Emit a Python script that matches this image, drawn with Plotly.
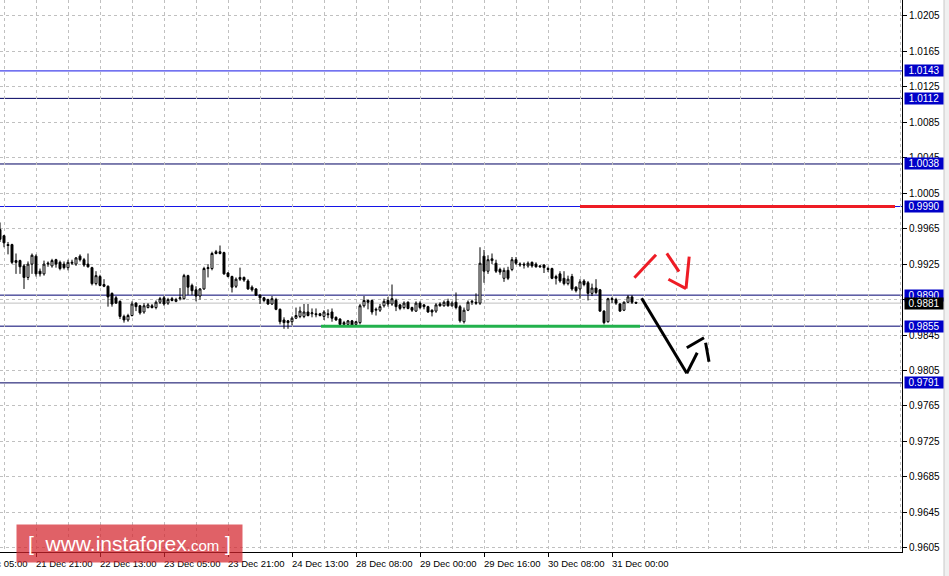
import plotly.graph_objects as go

# ---------------- data (H1 bars) ----------------
bar_open = [0.9964,0.9957,0.9947,0.9947,0.9929,0.9929,0.9923,0.9910,0.9925,0.9934,
            0.9917,0.9914,0.9925,0.9923,0.9930,0.9927,0.9925,0.9921,0.9926,0.9925,
            0.9934,0.9930,0.9925,0.9921,0.9903,0.9911,0.9902,0.9900,0.9892,0.9887,
            0.9883,0.9866,0.9862,0.9867,0.9881,0.9878,0.9871,0.9876,0.9878,0.9876,
            0.9882,0.9887,0.9881,0.9886,0.9883,0.9886,0.9886,0.9912,0.9901,0.9896,
            0.9889,0.9897,0.9920,0.9920,0.9937,0.9939,0.9938,0.9915,0.9911,0.9900,
            0.9910,0.9910,0.9906,0.9899,0.9897,0.9890,0.9887,0.9885,0.9880,0.9885,
            0.9874,0.9862,0.9861,0.9860,0.9864,0.9866,0.9866,0.9871,0.9869,0.9869,
            0.9869,0.9866,0.9869,0.9871,0.9865,0.9863,0.9857,0.9857,0.9861,0.9857,
            0.9859,0.9878,0.9884,0.9884,0.9873,0.9873,0.9878,0.9884,0.9880,0.9884,
            0.9879,0.9876,0.9882,0.9876,0.9872,0.9881,0.9879,0.9877,0.9873,0.9872,
            0.9880,0.9878,0.9883,0.9878,0.9882,0.9877,0.9860,0.9873,0.9882,0.9882,
            0.9881,0.9934,0.9917,0.9929,0.9926,0.9919,0.9909,0.9918,0.9919,0.9930,
            0.9924,0.9925,0.9923,0.9927,0.9925,0.9923,0.9924,0.9920,0.9920,0.9911,
            0.9914,0.9909,0.9903,0.9911,0.9899,0.9897,0.9906,0.9904,0.9892,0.9898,
            0.9896,0.9872,0.9860,0.9885,0.9885,0.9880,0.9873,0.9882,0.9888,0.9882]
bar_high = [0.9972,0.9958,0.9950,0.9948,0.9937,0.9930,0.9925,0.9928,0.9937,0.9936,
            0.9920,0.9929,0.9928,0.9931,0.9931,0.9929,0.9928,0.9930,0.9930,0.9933,
            0.9936,0.9932,0.9937,0.9922,0.9917,0.9913,0.9908,0.9901,0.9893,0.9889,
            0.9884,0.9868,0.9869,0.9883,0.9882,0.9879,0.9881,0.9881,0.9880,0.9884,
            0.9888,0.9889,0.9887,0.9888,0.9887,0.9898,0.9914,0.9913,0.9903,0.9900,
            0.9898,0.9922,0.9925,0.9939,0.9941,0.9946,0.9939,0.9916,0.9912,0.9910,
            0.9921,0.9911,0.9908,0.9901,0.9898,0.9891,0.9888,0.9886,0.9889,0.9887,
            0.9875,0.9865,0.9862,0.9866,0.9876,0.9877,0.9880,0.9880,0.9875,0.9875,
            0.9870,0.9873,0.9874,0.9875,0.9866,0.9864,0.9861,0.9862,0.9862,0.9861,
            0.9880,0.9889,0.9885,0.9885,0.9876,0.9880,0.9886,0.9888,0.9902,0.9886,
            0.9880,0.9883,0.9883,0.9877,0.9883,0.9883,0.9880,0.9878,0.9874,0.9881,
            0.9882,0.9884,0.9886,0.9883,0.9893,0.9879,0.9876,0.9884,0.9885,0.9892,
            0.9944,0.9941,0.9935,0.9937,0.9930,0.9921,0.9921,0.9922,0.9933,0.9933,
            0.9927,0.9927,0.9928,0.9928,0.9927,0.9924,0.9925,0.9922,0.9921,0.9913,
            0.9917,0.9917,0.9912,0.9914,0.9900,0.9908,0.9908,0.9906,0.9903,0.9908,
            0.9897,0.9873,0.9887,0.9888,0.9887,0.9881,0.9883,0.9890,0.9890,0.9882]
bar_low = [0.9950,0.9944,0.9936,0.9925,0.9914,0.9914,0.9897,0.9907,0.9914,0.9911,
           0.9911,0.9912,0.9922,0.9921,0.9921,0.9918,0.9919,0.9918,0.9924,0.9923,
           0.9928,0.9922,0.9921,0.9901,0.9901,0.9900,0.9899,0.9877,0.9877,0.9880,
           0.9863,0.9859,0.9860,0.9866,0.9872,0.9868,0.9869,0.9875,0.9875,0.9874,
           0.9880,0.9878,0.9879,0.9883,0.9882,0.9884,0.9885,0.9890,0.9890,0.9883,
           0.9885,0.9896,0.9910,0.9918,0.9936,0.9936,0.9913,0.9910,0.9893,0.9898,
           0.9906,0.9905,0.9896,0.9894,0.9889,0.9880,0.9882,0.9879,0.9879,0.9873,
           0.9857,0.9852,0.9852,0.9856,0.9863,0.9864,0.9864,0.9866,0.9865,0.9865,
           0.9866,0.9862,0.9864,0.9860,0.9861,0.9856,0.9856,0.9856,0.9855,0.9856,
           0.9857,0.9876,0.9874,0.9868,0.9867,0.9871,0.9876,0.9877,0.9878,0.9872,
           0.9873,0.9874,0.9874,0.9871,0.9871,0.9874,0.9874,0.9870,0.9866,0.9870,
           0.9877,0.9877,0.9877,0.9877,0.9874,0.9859,0.9858,0.9872,0.9879,0.9879,
           0.9879,0.9904,0.9914,0.9925,0.9915,0.9913,0.9905,0.9907,0.9917,0.9924,
           0.9922,0.9920,0.9921,0.9921,0.9921,0.9921,0.9915,0.9916,0.9908,0.9902,
           0.9904,0.9901,0.9901,0.9895,0.9893,0.9886,0.9900,0.9884,0.9889,0.9891,
           0.9871,0.9857,0.9859,0.9881,0.9879,0.9871,0.9872,0.9881,0.9880,0.9880]
bar_close = [0.9953,0.9949,0.9946,0.9927,0.9927,0.9922,0.9910,0.9925,0.9935,0.9914,
             0.9914,0.9925,0.9926,0.9929,0.9925,0.9920,0.9921,0.9927,0.9927,0.9932,
             0.9930,0.9924,0.9922,0.9903,0.9912,0.9901,0.9900,0.9888,0.9880,0.9881,
             0.9866,0.9862,0.9867,0.9880,0.9877,0.9870,0.9878,0.9879,0.9876,0.9882,
             0.9886,0.9880,0.9885,0.9884,0.9885,0.9887,0.9912,0.9899,0.9895,0.9889,
             0.9897,0.9920,0.9921,0.9937,0.9939,0.9937,0.9914,0.9911,0.9899,0.9908,
             0.9908,0.9907,0.9897,0.9896,0.9890,0.9887,0.9884,0.9880,0.9886,0.9874,
             0.9860,0.9859,0.9859,0.9864,0.9867,0.9872,0.9871,0.9867,0.9870,0.9868,
             0.9867,0.9871,0.9868,0.9864,0.9862,0.9857,0.9859,0.9861,0.9856,0.9860,
             0.9878,0.9884,0.9882,0.9871,0.9874,0.9877,0.9883,0.9880,0.9886,0.9877,
             0.9875,0.9881,0.9875,0.9873,0.9881,0.9876,0.9877,0.9871,0.9871,0.9879,
             0.9878,0.9882,0.9878,0.9881,0.9876,0.9861,0.9873,0.9882,0.9883,0.9881,
             0.9926,0.9917,0.9930,0.9931,0.9917,0.9916,0.9918,0.9909,0.9930,0.9926,
             0.9925,0.9924,0.9926,0.9923,0.9922,0.9922,0.9921,0.9919,0.9909,0.9909,
             0.9906,0.9903,0.9908,0.9897,0.9895,0.9905,0.9902,0.9892,0.9898,0.9893,
             0.9872,0.9859,0.9886,0.9886,0.9881,0.9872,0.9882,0.9888,0.9882,0.9881]
bar_index = list(range(len(bar_open)))

time_labels = ["21 Dec 21:00", "22 Dec 13:00", "23 Dec 05:00", "23 Dec 21:00", "24 Dec 13:00",
               "28 Dec 08:00", "29 Dec 00:00", "29 Dec 16:00", "30 Dec 08:00", "31 Dec 00:00"]
time_label_bars = [9, 25, 41, 57, 73, 89, 105, 121, 137, 153]
clipped_label = "21 Dec 05:00"
clipped_label_bar = -7

price_ticks = [0.9605, 0.9645, 0.9685, 0.9725, 0.9765, 0.9805, 0.9845, 0.9885, 0.9925,
               0.9965, 1.0005, 1.0045, 1.0085, 1.0125, 1.0165, 1.0205]

level_values = [1.0143, 1.0112, 1.0038, 0.9990, 0.9890, 0.9855, 0.9791]
level_colors = ["#1414e6", "#000060", "#000060", "#1414e6", "#000070", "#000070", "#000060"]
current_price = 0.9881

# target / support marks (bar index, price)
red_level = 0.9990
red_level_bars = [145, 223.75]
green_level = 0.98548
green_level_bars = [80.25, 160]
red_strokes = [((158.6, 0.99097), (164.0, 0.99356)),
               ((166.7, 0.99372), (169.75, 0.99165)),
               ((167.1, 0.99079), (171.5, 0.98973)),
               ((172.3, 0.99334), (171.5, 0.98973))]
black_strokes = [((160.4, 0.98864), (171.7, 0.98018)),
                 ((171.7, 0.98018), (174.3, 0.98250)),
                 ((171.7, 0.98307), (176.0, 0.98420)),
                 ((176.4, 0.98364), (177.25, 0.98149))]

X_RANGE = [0, 225.5]

# ---------------- figure ----------------
FONT = "Liberation Sans"
FS = 10
FSX = 9.5
fig = go.Figure(go.Candlestick(
    x=bar_index, open=bar_open, high=bar_high, low=bar_low, close=bar_close,
    increasing=dict(line=dict(color="black", width=1), fillcolor="white"),
    decreasing=dict(line=dict(color="black", width=1), fillcolor="black"),
    hoverinfo="skip", showlegend=False))

shapes = []
for v, c in zip(level_values, level_colors):
    shapes.append(dict(type="line", xref="paper", x0=0, x1=1, yref="y", y0=v, y1=v,
                       line=dict(color=c, width=1), layer="between"))
shapes.append(dict(type="line", xref="paper", x0=0, x1=1, yref="y", y0=current_price,
                   y1=current_price, line=dict(color="#c0c0c0", width=1), layer="between"))
shapes.append(dict(type="line", xref="x", yref="y", x0=red_level_bars[0], x1=red_level_bars[1],
                   y0=red_level, y1=red_level, line=dict(color="#ee1c25", width=3), layer="above"))
shapes.append(dict(type="line", xref="x", yref="y", x0=green_level_bars[0], x1=green_level_bars[1],
                   y0=green_level, y1=green_level, line=dict(color="#22b14c", width=3), layer="above"))
for (a, b) in red_strokes:
    shapes.append(dict(type="line", xref="x", yref="y", x0=a[0], y0=a[1], x1=b[0], y1=b[1],
                       line=dict(color="#ee1c25", width=3), layer="above"))
for (a, b) in black_strokes:
    shapes.append(dict(type="line", xref="x", yref="y", x0=a[0], y0=a[1], x1=b[0], y1=b[1],
                       line=dict(color="black", width=3), layer="above"))
# window frame strips
shapes.append(dict(type="rect", xref="paper", yref="paper", x0=944/902, x1=960/902, y0=-0.1, y1=1.1,
                   fillcolor="#f0f0f0", line=dict(width=0), layer="above"))
shapes.append(dict(type="line", xref="paper", yref="paper", x0=944/902, x1=944/902, y0=-0.1, y1=1.1,
                   line=dict(color="#c8c8c8", width=1), layer="above"))

annotations = []
for lab, b in zip(time_labels, time_label_bars):
    annotations.append(dict(x=b, xref="x", y=0, yref="paper", text=lab, showarrow=False,
                            xanchor="left", yanchor="top", xshift=-2, yshift=-4,
                            font=dict(family=FONT, size=FSX, color="black")))
# label for a bar left of the visible range (only its tail is visible)
clipped_paper_x = (clipped_label_bar - X_RANGE[0]) / (X_RANGE[1] - X_RANGE[0])
annotations.append(dict(x=clipped_paper_x, xref="paper", y=0, yref="paper", text=clipped_label,
                        showarrow=False, xanchor="left", yanchor="top", xshift=-3, yshift=-4,
                        font=dict(family=FONT, size=FSX, color="black")))
for v in level_values:
    annotations.append(dict(x=1, xref="paper", y=v, yref="y", text=f"{v:.4f}", showarrow=False,
                            xanchor="left", yanchor="middle", xshift=2, bgcolor="#0000c8",
                            width=36, height=9, borderpad=1,
                            font=dict(family=FONT, size=FS, color="white")))
annotations.append(dict(x=1, xref="paper", y=current_price, yref="y", text=f"{current_price:.4f}",
                        showarrow=False, xanchor="left", yanchor="middle", xshift=2, bgcolor="black",
                        width=36, height=9, borderpad=1,
                        font=dict(family=FONT, size=FS, color="white")))
# watermark
annotations.append(dict(x=129.5/902, xref="paper", y=(552-543.5)/552, yref="paper",
                        text="[&nbsp;&nbsp;www.instaforex<span style='font-size:15px'>.com</span>&nbsp;]",
                        showarrow=False, xanchor="center", yanchor="middle",
                        bgcolor="rgba(212,36,44,0.72)", width=223, height=35, borderpad=1,
                        font=dict(family=FONT, size=21, color="white")))

major_x = time_label_bars
minor_x = [b for b in range(1, 226, 8) if b not in major_x]

fig.update_layout(
    width=949, height=576,
    margin=dict(l=0, r=47, t=0, b=24, pad=0),
    plot_bgcolor="white", paper_bgcolor="white",
    showlegend=False, shapes=shapes, annotations=annotations,
    font=dict(family=FONT, size=FS, color="black"),
    xaxis=dict(range=X_RANGE, rangeslider=dict(visible=False), tickmode="array",
               tickvals=major_x, ticktext=[""] * len(major_x), ticks="outside", ticklen=4,
               tickcolor="black", showline=True, linecolor="black", linewidth=1,
               showgrid=True, gridcolor="#c0c0c0", griddash="3px,3px", gridwidth=1,
               zeroline=False, fixedrange=True,
               minor=dict(tickvals=minor_x, showgrid=True, gridcolor="#c0c0c0",
                          griddash="3px,3px", gridwidth=1, ticks="")),
    yaxis=dict(range=[0.96002, 1.0223], side="right", tickmode="array", tickvals=price_ticks,
               tickformat=".4f", ticks="outside", ticklen=4, tickcolor="black",
               showline=True, linecolor="black", linewidth=1, mirror=False,
               showgrid=True, gridcolor="#c0c0c0", griddash="3px,3px", gridwidth=1,
               zeroline=False, fixedrange=True,
               tickfont=dict(family=FONT, size=FS, color="black")),
)

fig.write_html("out.html", config={"displayModeBar": False},
               post_script="document.body.style.margin='0';document.body.style.padding='0';")
